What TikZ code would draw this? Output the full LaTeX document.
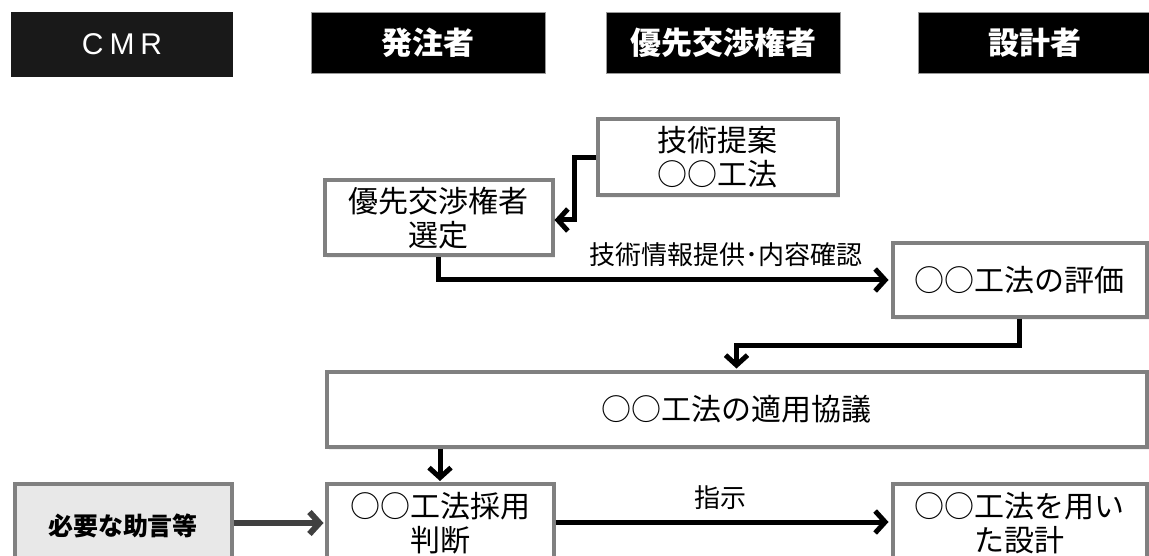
\documentclass[tikz,border=0pt]{standalone}
\usepackage{fontspec}
\setmainfont{Liberation Sans}
\newfontfamily\jp{Noto Sans CJK JP}
\usetikzlibrary{arrows.meta,shadows}
\begin{document}
\begin{tikzpicture}[x=1pt,y=-1pt,
  hdr/.style={fill=black,draw=black!40,line width=0.8pt,minimum width=234pt,minimum height=61pt,inner sep=0pt,text=white,font=\jp\bfseries\fontsize{31}{34}\selectfont},
  box/.style={draw=black!50,line width=4pt,fill=white,inner sep=0pt,align=center,font=\jp\fontsize{30}{34}\selectfont,
    drop shadow={opacity=0.12,shadow xshift=2pt,shadow yshift=-3pt}},
  conn/.style={line width=5pt,-{Straight Barb[length=10pt,width=22pt]}},
  lbl/.style={font=\jp\fontsize{26}{30}\selectfont}]
\clip (0,0) rectangle (1149,556);
\useasboundingbox (0,0) rectangle (1149,556);
% headers
\node[hdr,fill=black!90,draw=none,minimum width=222pt,minimum height=65pt,font=\fontsize{30}{33}\selectfont] (hcmr) at (122,44.5) {C\kern6pt M\kern6pt R};
\node[hdr] (hown) at (428,42.5) {発注者};
\node[hdr] (hpri) at (723,42.5) {優先交渉権者};
\node[hdr] (hdes) at (1035,42.5) {設計者};
% boxes
\node[box,minimum width=240pt,minimum height=76pt] (prop) at (717.5,157.5) {技術提案\\○○工法};
\node[box,minimum width=228pt,minimum height=75pt] (sel) at (438.5,218) {優先交渉権者\\選定};
\node[box,minimum width=254pt,minimum height=73pt] (eval) at (1019.5,280) {○○工法の評価};
\node[box,minimum width=820pt,minimum height=75pt] (agree) at (736.5,409) {○○工法の適用協議};
\node[box,minimum width=227pt,minimum height=78pt] (adopt) at (440,523) {○○工法採用\\判断};
\node[box,minimum width=254pt,minimum height=78pt] (design) at (1019.5,523) {○○工法を用い\\た設計};
\node[box,fill=black!9,minimum width=217pt,minimum height=84pt,font=\jp\bfseries\fontsize{25}{29}\selectfont] (adv) at (123,525.5) {必要な助言等};
% connectors
\draw[conn] (prop.west) -- ++(-21,0) |- ([yshift=-2pt]sel.east);
\draw[conn,shorten >=2pt] (sel.south) |- (eval.west);
\node[lbl] (l1) at (726,255) {技術情報提供･内容確認};
\draw[conn,shorten >=1pt] (eval.south) -- ++(0,27) -| (agree.north);
\draw[conn,shorten >=1pt] (agree.south -| adopt.north) -- (adopt.north);
\draw[conn,draw=black!75,line width=6pt,shorten >=1pt] ([yshift=2.5pt]adv.east) -- ([yshift=2.5pt]adv.east -| adopt.west);
\draw[conn,shorten >=2pt] ([yshift=1pt]adopt.east) -- ([yshift=1pt]adopt.east -| design.west);
\node[lbl] (l2) at (720,498) {指示};
\end{tikzpicture}
\end{document}
